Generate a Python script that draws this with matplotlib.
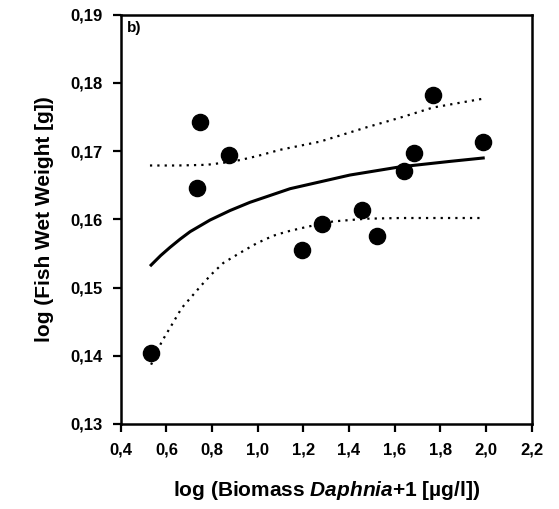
import matplotlib
matplotlib.use("Agg")
import matplotlib.pyplot as plt
from matplotlib.ticker import FuncFormatter

# observed points
biomass = [0.533, 0.733, 0.746, 0.876, 1.194, 1.280, 1.458, 1.524, 1.642, 1.686, 1.769, 1.987]
weight = [0.1404, 0.1646, 0.1743, 0.1695, 0.1555, 0.1593, 0.1614, 0.1576, 0.1671, 0.1697, 0.1783, 0.1714]

# fitted curve
fit_x = [0.533, 0.575, 0.616, 0.660, 0.704, 0.791, 0.879, 0.966, 1.054, 1.142,
         1.273, 1.404, 1.623, 1.842, 1.988]
fit_y = [0.1533, 0.1547, 0.1559, 0.1571, 0.1582, 0.1599, 0.1613, 0.1625, 0.1635, 0.1645,
         0.1655, 0.1665, 0.1677, 0.1685, 0.1690]

# confidence bands
upper_x = [0.528, 0.650, 0.777, 0.850, 0.923, 1.000, 1.098, 1.273, 1.477, 1.623, 1.768, 1.988]
upper_y = [0.1679, 0.1679, 0.1680, 0.1683, 0.1687, 0.1693, 0.1702, 0.1714, 0.1735, 0.1749, 0.1764, 0.1777]
lower_x = [0.533, 0.580, 0.623, 0.667, 0.711, 0.755, 0.799, 0.849, 0.923, 0.996, 1.068, 1.127,
           1.215, 1.330, 1.477, 1.623, 1.981]
lower_y = [0.1387, 0.1421, 0.1445, 0.1470, 0.1487, 0.1504, 0.1520, 0.1536, 0.1551, 0.1565, 0.1576, 0.1582,
           0.1589, 0.1597, 0.1601, 0.1602, 0.1602]

xticks = [0.4, 0.6, 0.8, 1.0, 1.2, 1.4, 1.6, 1.8, 2.0, 2.2]
yticks = [0.13, 0.14, 0.15, 0.16, 0.17, 0.18, 0.19]

plt.rcParams['font.family'] = ['Liberation Sans', 'DejaVu Sans']
plt.rcParams['font.weight'] = 'bold'
plt.rcParams['mathtext.fontset'] = 'custom'
plt.rcParams['mathtext.it'] = 'Liberation Sans:italic:bold'
plt.rcParams['mathtext.rm'] = 'Liberation Sans:bold'

fig = plt.figure(figsize=(5.59, 5.09), dpi=100)
ax = fig.add_axes([0.216, 0.167, 0.735, 0.804])

ax.plot(upper_x, upper_y, color='black', lw=1.6, ls=(0, (1, 2.3)))
ax.plot(lower_x, lower_y, color='black', lw=1.6, ls=(0, (1, 2.3)))
ax.plot(fit_x, fit_y, color='black', lw=2.2)
ax.scatter(biomass, weight, s=135, color='black', zorder=3)

ax.set_xlim(0.4, 2.2)
ax.set_ylim(0.13, 0.19)
ax.set_xticks(xticks)
ax.set_yticks(yticks)
ax.xaxis.set_major_formatter(FuncFormatter(lambda v, p: ("%.1f" % v).replace('.', ',')))
ax.yaxis.set_major_formatter(FuncFormatter(lambda v, p: ("%.2f" % v).replace('.', ',')))
ax.tick_params(direction='out', length=6, width=1.6, labelsize=12, pad=7)
for s in ax.spines.values():
    s.set_linewidth(1.8)

ax.set_xlabel("log (Biomass $\\mathit{Daphnia}$+1 [µg/l])", fontsize=15, fontweight='bold', labelpad=16)
ax.set_ylabel("log (Fish Wet Weight [g])", fontsize=15, fontweight='bold', labelpad=12)
ax.text(0.015, 0.985, "b)", transform=ax.transAxes, fontsize=11, fontweight='bold', va='top', ha='left')

fig.savefig("out.png", dpi=100)
